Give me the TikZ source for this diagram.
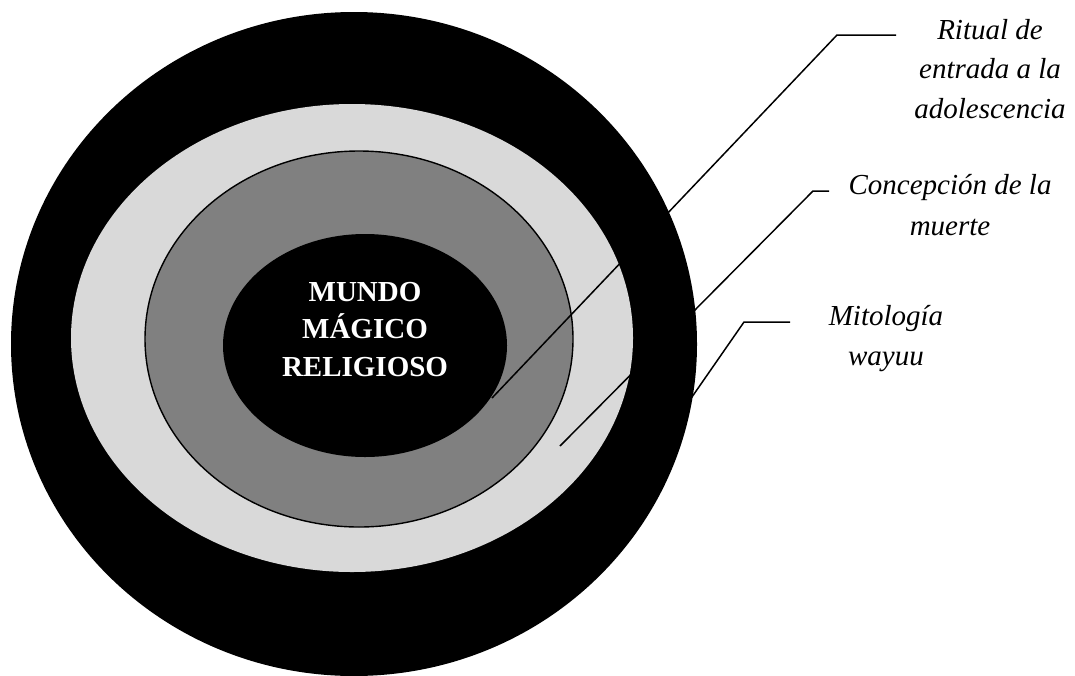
\documentclass[tikz,border=0pt]{standalone}
\usepackage{fontspec}
\setmainfont{Liberation Serif}
\definecolor{ringlight}{HTML}{D9D9D9}
\definecolor{ringdark}{HTML}{808080}
\begin{document}
\begin{tikzpicture}[x=1pt,y=-1pt,
  leader/.style={draw=black,line width=1.5pt},
  labeltext/.style={font=\fontsize{29}{39.5}\selectfont\itshape,align=center,inner sep=0pt,anchor=base},
  coretext/.style={font=\fontsize{29}{37.5}\selectfont\bfseries,text=white,align=center,inner sep=0pt,anchor=base}]
\useasboundingbox (0,0) rectangle (1075,675);
\clip (0,0) rectangle (1075,675);
% rings
\fill[black] (354,344) ellipse [x radius=343, y radius=332];
\fill[ringlight] (352,338) ellipse [x radius=281, y radius=234];
\filldraw[fill=ringdark,draw=black,line width=1.4pt] (359,339) ellipse [x radius=214, y radius=188];
\fill[black] (365,345.5) ellipse [x radius=142, y radius=111.5];
% centre text (anchor = baseline of last line)
\node[coretext] (core) at (365,376) {MUNDO\\MÁGICO\\RELIGIOSO};
% labels
\node[labeltext] (ritual) at (990,118) {Ritual de\\entrada a la\\adolescencia};
\node[labeltext,font=\fontsize{29}{41}\selectfont\itshape] (concepcion) at (950,235) {Concepción de la\\muerte};
\node[labeltext] (mitologia) at (886,365) {Mitología\\wayuu};
% leader lines
\coordinate (r1) at (896,35);
\coordinate (r2) at (837,35);
\coordinate (r3) at (492,398);
\coordinate (c1) at (829,191);
\coordinate (c2) at (813,191);
\coordinate (c3) at (560,446);
\coordinate (m1) at (790,322);
\coordinate (m2) at (744,322);
\coordinate (m3) at (660,443);
\draw[leader] (r1) -- (r2) -- (r3);
\draw[leader] (c1) -- (c2) -- (c3);
\draw[leader] (m1) -- (m2) -- (m3);
\end{tikzpicture}
\end{document}
